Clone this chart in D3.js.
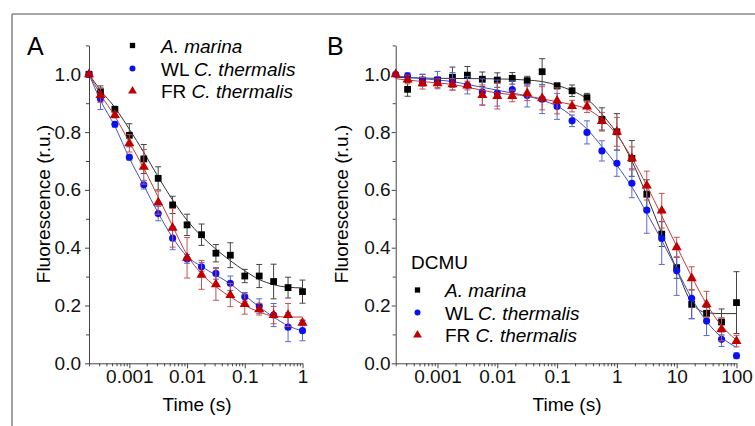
<!DOCTYPE html>
<html>
<head>
<meta charset="utf-8">
<title>Fluorescence decay</title>
<style>
body { margin: 0; background: #fff; }
svg { display: block; font-family: "Liberation Sans", Arial, sans-serif; }
.axis path, .axis line { stroke: #444; }
.axis text { font-size: 19px; fill: #111; font-family: "Liberation Sans", Arial, sans-serif; }
</style>
</head>
<body>
<svg id="chart" width="755" height="426"></svg>
<script src="https://d3js.org/d3.v7.min.js"></script>
<script>
// ---- data ----
const timesA = [0.0002, 0.000316, 0.000562, 0.001, 0.00178, 0.00316, 0.00562, 0.01,
  0.0178, 0.0316, 0.0562, 0.1, 0.178, 0.316, 0.562, 1];
const marinaA = [1.0, 0.94, 0.879, 0.789, 0.707, 0.640, 0.548, 0.479, 0.445, 0.381, 0.374, 0.302, 0.302, 0.283, 0.262, 0.248];
const marinaErrA = [0, 0.02, 0.01, 0.04, 0.05, 0.04, 0.03, 0.037, 0.037, 0.03, 0.043, 0.023, 0.04, 0.06, 0.036, 0.04];
const wlA = [1.0, 0.915, 0.827, 0.713, 0.618, 0.518, 0.433, 0.361, 0.334, 0.311, 0.277, 0.230, 0.198, 0.167, 0.125, 0.113];
const wlErrA = [0, 0.037, 0.01, 0.01, 0.015, 0.025, 0.04, 0.015, 0.015, 0.02, 0.025, 0.015, 0.025, 0.04, 0.05, 0.035];
const frA = [1.0, 0.928, 0.859, 0.761, 0.680, 0.556, 0.469, 0.365, 0.306, 0.273, 0.236, 0.205, 0.187, 0.167, 0.167, 0.140];
const frErrA = [0, 0.025, 0.01, 0.03, 0.06, 0.04, 0.067, 0.07, 0.05, 0.055, 0.04, 0.035, 0.02, 0.03, 0.04, 0.01];
const marinaFitA = [1.0, 0.945, 0.885, 0.81, 0.73, 0.645, 0.565, 0.495, 0.44, 0.395, 0.355, 0.32, 0.29, 0.272, 0.263, 0.261];
const wlFitA = [1.0, 0.91, 0.82, 0.71, 0.615, 0.52, 0.435, 0.37, 0.335, 0.305, 0.275, 0.235, 0.195, 0.16, 0.13, 0.112];
const frFitA = [1.0, 0.93, 0.855, 0.765, 0.675, 0.575, 0.475, 0.375, 0.31, 0.265, 0.23, 0.2, 0.178, 0.163, 0.16, 0.16];

const timesB = [0.0002, 0.000316, 0.000562, 0.001, 0.00178, 0.00316, 0.00562, 0.01,
  0.0178, 0.0316, 0.0562, 0.1, 0.178, 0.316, 0.562, 1, 1.78, 3.16, 5.62, 10, 17.8, 31.6, 56.2, 100];
const marinaB = [null, 0.948, 0.980, 0.980, 0.990, 0.997, 0.983, 0.980, 0.986, 0.978, 1.009, 0.960,
  0.943, 0.919, 0.844, 0.801, 0.709, 0.585, 0.447, 0.331, 0.204, 0.173, 0.143, 0.210];
const marinaErrB = [0, 0.024, 0.02, 0.01, 0.035, 0.03, 0.025, 0.025, 0.02, 0.015, 0.045, 0.01,
  0.02, 0.015, 0.04, 0.063, 0.062, 0.05, 0.043, 0.037, 0.05, 0.02, 0.045, 0.107];
const wlB = [1.0, 0.995, 0.980, 0.980, 0.976, 0.962, 0.939, 0.935, 0.947, 0.927, 0.914, 0.889,
  0.839, 0.799, 0.735, 0.692, 0.623, 0.530, 0.432, 0.320, 0.225, 0.146, 0.083, 0.026];
const wlErrB = [0, 0.01, 0.02, 0.03, 0.03, 0.03, 0.045, 0.045, 0.03, 0.04, 0.05, 0.045,
  0.02, 0.04, 0.035, 0.045, 0.05, 0.08, 0.09, 0.085, 0.07, 0.05, 0.025, 0.01];
const frB = [1.0, 0.982, 0.969, 0.969, 0.965, 0.961, 0.928, 0.925, 0.925, 0.934, 0.917, 0.908,
  0.890, 0.888, 0.838, 0.801, 0.709, 0.615, 0.528, 0.401, 0.294, 0.204, 0.118, 0.077];
const frErrB = [0, 0.015, 0.02, 0.015, 0.02, 0.015, 0.035, 0.045, 0.02, 0.025, 0.04, 0.045,
  0.02, 0.02, 0.03, 0.05, 0.04, 0.05, 0.06, 0.035, 0.04, 0.045, 0.04, 0.02];
const marinaFitB = [0.99, 0.988, 0.987, 0.986, 0.986, 0.985, 0.985, 0.984, 0.983, 0.98, 0.975, 0.962,
  0.943, 0.915, 0.862, 0.795, 0.70, 0.58, 0.45, 0.325, 0.21, 0.175, 0.172, 0.172];
const wlFitB = [0.995, 0.99, 0.985, 0.98, 0.975, 0.965, 0.955, 0.945, 0.935, 0.925, 0.91, 0.89,
  0.855, 0.81, 0.75, 0.685, 0.61, 0.52, 0.425, 0.325, 0.225, 0.145, 0.09, 0.055];
const frFitB = [0.985, 0.98, 0.975, 0.97, 0.965, 0.955, 0.945, 0.935, 0.93, 0.925, 0.915, 0.905,
  0.895, 0.88, 0.845, 0.79, 0.71, 0.615, 0.51, 0.405, 0.30, 0.205, 0.13, 0.08];

const tickValuesA = [0.001, 0.01, 0.1, 1];
const tickLabelsA = ["0.001", "0.01", "0.1", "1"];
const tickValuesB = [0.001, 0.01, 0.1, 1, 10, 100];
const tickLabelsB = ["0.001", "0.01", "0.1", "1", "10", "100"];
const yTickValues = [0, 0.2, 0.4, 0.6, 0.8, 1.0];
const yTickLabels = ["0.0", "0.2", "0.4", "0.6", "0.8", "1.0"];
const seriesNames = ["A. marina", "C. thermalis", "C. thermalis"];
const seriesPrefix = ["", "WL ", "FR "];

const svg = d3.select("#chart");

// frame lines around the figure
svg.append("line").attr("x1", 12).attr("x2", 755).attr("y1", 14).attr("y2", 14)
  .attr("stroke", "#888").attr("stroke-width", 1.5);
svg.append("line").attr("x1", 12).attr("x2", 12).attr("y1", 14).attr("y2", 426)
  .attr("stroke", "#666").attr("stroke-width", 1.2);

const styles = [
  { color: "#000", fit: "#333", err: "#444", shape: d3.symbolSquare, size: 46 },
  { color: "#0a10f0", fit: "#4050c8", err: "#5a68d8", shape: d3.symbolCircle, size: 40 },
  { color: "#c00000", fit: "#c23a3a", err: "#c85050", shape: d3.symbolTriangle, size: 44 }
];

function panel(opt) {
  const x = d3.scaleLog().domain(opt.xDomain).range(opt.xRange);
  const y = d3.scaleLinear().domain([0, 1.1]).range([363.3, 45.4]);
  const g = svg.append("g");

  // x axis: minor ticks, then majors with labels
  const minor = x.ticks().filter(t => tickValuesA.concat(tickValuesB).indexOf(t) < 0 && t >= opt.xDomain[0]);
  g.append("g").attr("class", "axis").attr("transform", "translate(0,363.3)")
    .call(d3.axisBottom(x).tickValues(minor).tickSize(3).tickFormat(""))
    .call(a => a.select(".domain").remove());
  const xa = g.append("g").attr("class", "axis").attr("transform", "translate(0,363.3)")
    .call(d3.axisBottom(x).tickValues(opt.ticks).tickSize(5).tickSizeOuter(0)
      .tickFormat((d, i) => opt.labels[i]));
  xa.selectAll("text").attr("y", 6);

  // y axis
  g.append("g").attr("class", "axis").attr("transform", `translate(${opt.xRange[0]},0)`)
    .call(d3.axisLeft(y).tickValues([0.1, 0.3, 0.5, 0.7, 0.9, 1.1]).tickSize(3).tickFormat(""))
    .call(a => a.select(".domain").remove());
  const ya = g.append("g").attr("class", "axis").attr("transform", `translate(${opt.xRange[0]},0)`)
    .call(d3.axisLeft(y).tickValues(yTickValues).tickSize(4).tickSizeOuter(0)
      .tickFormat((d, i) => yTickLabels[i]));
  ya.selectAll("text").attr("x", opt.yLabelOffset);

  // axis titles and panel letter
  g.append("text").attr("x", opt.titleX).attr("y", 411).attr("text-anchor", "middle")
    .attr("font-size", 19).text("Time (s)");
  g.append("text").attr("transform", `translate(${opt.yTitleX},204) rotate(-90)`)
    .attr("text-anchor", "middle").attr("font-size", 19).text("Fluorescence (r.u.)");
  g.append("text").attr("x", opt.letterX).attr("y", 55).attr("font-size", 25).text(opt.letter);

  const line = d3.line().x(d => x(d[0])).y(d => y(d[1])).curve(d3.curveMonotoneX);

  opt.series.forEach((s, k) => {
    const st = styles[k];
    const pts = opt.times.map((t, i) => ({ t: t, v: s.values[i], e: s.err[i] }))
      .filter(d => d.v !== null);
    g.append("path")
      .datum(opt.times.map((t, i) => [t, s.fit[i]]))
      .attr("fill", "none").attr("stroke", st.fit).attr("stroke-width", 1)
      .attr("d", line);
    const eb = g.append("g").attr("stroke", st.err).attr("stroke-width", 1);
    pts.filter(d => d.e > 0).forEach(d => {
      const cx = x(d.t);
      eb.append("line").attr("x1", cx).attr("x2", cx).attr("y1", y(d.v - d.e)).attr("y2", y(d.v + d.e));
      eb.append("line").attr("x1", cx - 3).attr("x2", cx + 3).attr("y1", y(d.v - d.e)).attr("y2", y(d.v - d.e));
      eb.append("line").attr("x1", cx - 3).attr("x2", cx + 3).attr("y1", y(d.v + d.e)).attr("y2", y(d.v + d.e));
    });
    g.append("g").selectAll("path").data(pts).join("path")
      .attr("transform", d => `translate(${x(d.t)},${y(d.v)})`)
      .attr("d", d3.symbol().type(st.shape).size(st.size))
      .attr("fill", st.color);
  });

  // legend
  const lg = g.append("g");
  if (opt.legendTitle) {
    lg.append("text").attr("x", opt.legend.titleX).attr("y", opt.legend.titleY)
      .attr("font-size", 19).text(opt.legendTitle);
  }
  opt.legend.rows.forEach((ry, k) => {
    const st = styles[k];
    lg.append("path")
      .attr("transform", `translate(${opt.legend.markX},${ry - 7})`)
      .attr("d", d3.symbol().type(st.shape).size(k === 2 ? 34 : 28))
      .attr("fill", st.color);
    const t = lg.append("text").attr("x", opt.legend.textX).attr("y", ry).attr("font-size", 19);
    if (seriesPrefix[k]) t.append("tspan").text(seriesPrefix[k]);
    t.append("tspan").attr("font-style", "italic").text(seriesNames[k]);
  });
}

panel({
  letter: "A", letterX: 27,
  xDomain: [0.0002, 1], xRange: [89, 302.5],
  ticks: tickValuesA, labels: tickLabelsA,
  yLabelOffset: -8, titleX: 197, yTitleX: 50,
  times: timesA,
  series: [
    { values: marinaA, err: marinaErrA, fit: marinaFitA },
    { values: wlA, err: wlErrA, fit: wlFitA },
    { values: frA, err: frErrA, fit: frFitA }
  ],
  legend: { markX: 132.5, textX: 161, rows: [52.5, 75.5, 98] }
});

panel({
  letter: "B", letterX: 327,
  xDomain: [0.0002, 100], xRange: [395.7, 736.5],
  ticks: tickValuesB, labels: tickLabelsB,
  yLabelOffset: -5, titleX: 567, yTitleX: 348,
  times: timesB,
  series: [
    { values: marinaB, err: marinaErrB, fit: marinaFitB },
    { values: wlB, err: wlErrB, fit: wlFitB },
    { values: frB, err: frErrB, fit: frFitB }
  ],
  legendTitle: "DCMU",
  legend: { titleX: 411, titleY: 269, markX: 417.5, textX: 445, rows: [297, 319.5, 342] }
});
</script>
</body>
</html>
